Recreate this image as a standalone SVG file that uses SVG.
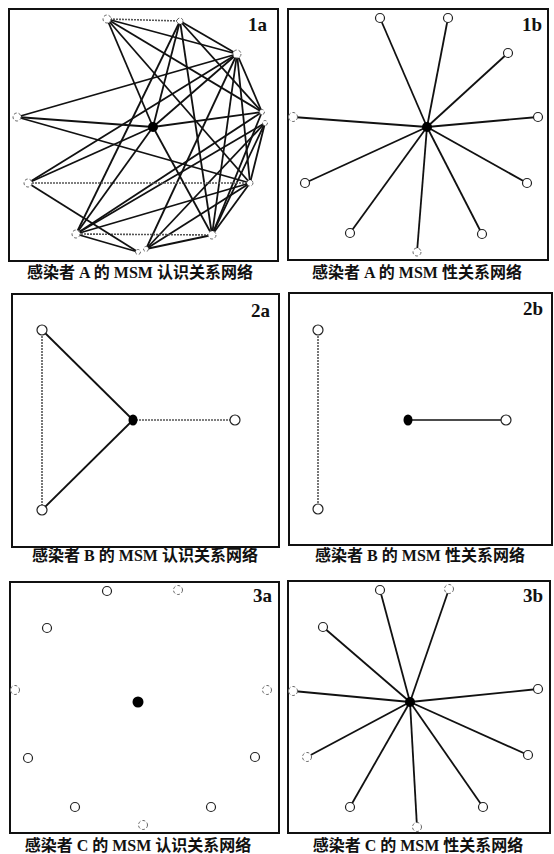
<svg xmlns="http://www.w3.org/2000/svg" width="554" height="854" viewBox="0 0 554 854">
<style>
.frame{fill:none;stroke:#111;stroke-width:2}
.e{stroke:#111;stroke-width:1.8;fill:none}
.g{stroke:#555;stroke-width:1.6;stroke-dasharray:2 1;fill:none}
.n{fill:#fff;stroke:#222;stroke-width:1.2}
.nf{fill:#fff;stroke:#666;stroke-width:1;stroke-dasharray:3 2}
.c{fill:#000}
.lab{font-family:"Liberation Serif","Times New Roman",serif;font-weight:bold;font-size:19px;fill:#111;text-anchor:end}
.cap{font-family:"Liberation Serif","Noto Sans CJK SC",serif;font-weight:bold;font-size:16px;fill:#111;text-anchor:middle}
</style>
<rect width="554" height="854" fill="#fff"/>
<g id="frames">
<rect class="frame" x="9" y="9" width="269" height="252"/>
<rect class="frame" x="288" y="9" width="260" height="251"/>
<rect class="frame" x="12" y="294" width="267" height="253"/>
<rect class="frame" x="289" y="293" width="263" height="252"/>
<rect class="frame" x="10" y="582" width="269" height="251"/>
<rect class="frame" x="288" y="581" width="262" height="252"/>
</g>
<g id="connectors">
<!-- 1a -->
<line class="g" x1="107" y1="19" x2="180" y2="21"/>
<line class="e" x1="107" y1="19" x2="237" y2="54"/>
<line class="e" x1="107" y1="19" x2="262" y2="112"/>
<line class="e" x1="107" y1="19" x2="153" y2="127"/>
<line class="e" x1="107" y1="19" x2="250" y2="183"/>
<line class="e" x1="180" y1="21" x2="237" y2="54"/>
<line class="e" x1="180" y1="21" x2="262" y2="112"/>
<line class="e" x1="180" y1="21" x2="153" y2="127"/>
<line class="e" x1="180" y1="21" x2="76" y2="234"/>
<line class="e" x1="180" y1="21" x2="212" y2="235"/>
<line class="e" x1="237" y1="54" x2="17" y2="117"/>
<line class="e" x1="237" y1="54" x2="153" y2="127"/>
<line class="e" x1="237" y1="54" x2="262" y2="112"/>
<line class="e" x1="237" y1="54" x2="250" y2="183"/>
<line class="e" x1="237" y1="54" x2="212" y2="235"/>
<line class="e" x1="237" y1="54" x2="146" y2="249"/>
<line class="e" x1="237" y1="54" x2="28" y2="183"/>
<line class="e" x1="262" y1="112" x2="153" y2="127"/>
<line class="e" x1="262" y1="112" x2="76" y2="234"/>
<line class="e" x1="262" y1="112" x2="212" y2="235"/>
<line class="e" x1="265" y1="123" x2="250" y2="183"/>
<line class="e" x1="265" y1="123" x2="212" y2="235"/>
<line class="e" x1="265" y1="123" x2="146" y2="249"/>
<line class="e" x1="265" y1="123" x2="76" y2="234"/>
<line class="e" x1="250" y1="183" x2="17" y2="117"/>
<line class="g" x1="250" y1="183" x2="28" y2="183"/>
<line class="e" x1="250" y1="183" x2="76" y2="234"/>
<line class="e" x1="250" y1="183" x2="146" y2="249"/>
<line class="e" x1="250" y1="183" x2="212" y2="235"/>
<line class="g" x1="212" y1="235" x2="76" y2="234"/>
<line class="e" x1="212" y1="235" x2="146" y2="249"/>
<line class="e" x1="212" y1="235" x2="153" y2="127"/>
<line class="e" x1="138" y1="252" x2="28" y2="183"/>
<line class="e" x1="138" y1="252" x2="76" y2="234"/>
<line class="e" x1="76" y1="234" x2="153" y2="127"/>
<line class="e" x1="28" y1="183" x2="153" y2="127"/>
<line class="e" x1="17" y1="117" x2="153" y2="127"/>
<!-- 1b -->
<line class="e" x1="427" y1="127" x2="380" y2="18"/>
<line class="e" x1="427" y1="127" x2="448" y2="18"/>
<line class="e" x1="427" y1="127" x2="508" y2="53"/>
<line class="e" x1="427" y1="127" x2="538" y2="117"/>
<line class="e" x1="427" y1="127" x2="527" y2="183"/>
<line class="e" x1="427" y1="127" x2="482" y2="234"/>
<line class="e" x1="427" y1="127" x2="417" y2="252"/>
<line class="e" x1="427" y1="127" x2="350" y2="233"/>
<line class="e" x1="427" y1="127" x2="305" y2="183"/>
<line class="e" x1="427" y1="127" x2="293" y2="117"/>
<!-- 2a -->
<line class="g" x1="42" y1="330" x2="42" y2="510"/>
<line class="e" x1="42" y1="330" x2="133" y2="420"/>
<line class="e" x1="42" y1="510" x2="133" y2="420"/>
<line class="g" x1="133" y1="420" x2="235" y2="420"/>
<!-- 2b -->
<line class="g" x1="318" y1="330" x2="318" y2="509"/>
<line class="e" x1="408" y1="420" x2="506" y2="420" style="stroke-width:1.4"/>
<!-- 3b -->
<line class="e" x1="410" y1="702" x2="380" y2="590"/>
<line class="e" x1="410" y1="702" x2="449" y2="589"/>
<line class="e" x1="410" y1="702" x2="323" y2="627"/>
<line class="e" x1="410" y1="702" x2="293" y2="691"/>
<line class="e" x1="410" y1="702" x2="538" y2="689"/>
<line class="e" x1="410" y1="702" x2="307" y2="757"/>
<line class="e" x1="410" y1="702" x2="528" y2="755"/>
<line class="e" x1="410" y1="702" x2="350" y2="807"/>
<line class="e" x1="410" y1="702" x2="483" y2="807"/>
<line class="e" x1="410" y1="702" x2="417" y2="827"/>
</g>
<!-- nodes 1a -->
<g id="n1a-c"><circle class="c" cx="153" cy="127" r="5"/></g>
<g id="n1a-1"><circle class="nf" cx="107" cy="19" r="4"/></g>
<g id="n1a-2"><circle class="nf" cx="180" cy="21" r="3"/></g>
<g id="n1a-3"><circle class="nf" cx="237" cy="54" r="4"/></g>
<g id="n1a-4"><circle class="nf" cx="262" cy="112" r="2.5"/></g>
<g id="n1a-5"><circle class="nf" cx="265" cy="123" r="2.5"/></g>
<g id="n1a-6"><circle class="nf" cx="250" cy="183" r="3"/></g>
<g id="n1a-7"><circle class="nf" cx="212" cy="235" r="4"/></g>
<g id="n1a-8"><circle class="nf" cx="146" cy="249" r="2.5"/></g>
<g id="n1a-9"><circle class="nf" cx="138" cy="252" r="2.5"/></g>
<g id="n1a-10"><circle class="nf" cx="76" cy="234" r="4"/></g>
<g id="n1a-11"><circle class="nf" cx="28" cy="183" r="4"/></g>
<g id="n1a-12"><circle class="nf" cx="17" cy="117" r="4"/></g>
<!-- nodes 1b -->
<g id="n1b-c"><circle class="c" cx="427" cy="127" r="5"/></g>
<g id="n1b-1"><circle class="n" cx="380" cy="18" r="4.5"/></g>
<g id="n1b-2"><circle class="n" cx="448" cy="18" r="4.5"/></g>
<g id="n1b-3"><circle class="n" cx="508" cy="53" r="4.5"/></g>
<g id="n1b-4"><circle class="n" cx="538" cy="117" r="4.5"/></g>
<g id="n1b-5"><circle class="n" cx="527" cy="183" r="4.5"/></g>
<g id="n1b-6"><circle class="n" cx="482" cy="234" r="4.5"/></g>
<g id="n1b-7"><circle class="nf" cx="417" cy="252" r="4"/></g>
<g id="n1b-8"><circle class="n" cx="350" cy="233" r="4.5"/></g>
<g id="n1b-9"><circle class="n" cx="305" cy="183" r="4.5"/></g>
<g id="n1b-10"><circle class="nf" cx="293" cy="117" r="4.5"/></g>
<!-- nodes 2a -->
<g id="n2a-c"><ellipse class="c" cx="133" cy="420" rx="4.5" ry="5.5"/></g>
<g id="n2a-1"><circle class="n" cx="42" cy="330" r="5"/></g>
<g id="n2a-2"><circle class="n" cx="42" cy="510" r="5"/></g>
<g id="n2a-3"><circle class="n" cx="235" cy="420" r="5"/></g>
<!-- nodes 2b -->
<g id="n2b-c"><ellipse class="c" cx="408" cy="420" rx="4.5" ry="5.5"/></g>
<g id="n2b-1"><circle class="n" cx="318" cy="330" r="5"/></g>
<g id="n2b-2"><circle class="n" cx="318" cy="509" r="5"/></g>
<g id="n2b-3"><circle class="n" cx="506" cy="420" r="5"/></g>
<!-- nodes 3a -->
<g id="n3a-c"><circle class="c" cx="138" cy="702" r="5.5"/></g>
<g id="n3a-1"><circle class="n" cx="107" cy="591" r="4.5"/></g>
<g id="n3a-2"><circle class="nf" cx="178" cy="590" r="4.5"/></g>
<g id="n3a-3"><circle class="n" cx="47" cy="628" r="4.5"/></g>
<g id="n3a-4"><circle class="nf" cx="15" cy="690" r="4.5"/></g>
<g id="n3a-5"><circle class="nf" cx="267" cy="690" r="4.5"/></g>
<g id="n3a-6"><circle class="n" cx="28" cy="758" r="4.5"/></g>
<g id="n3a-7"><circle class="n" cx="255" cy="757" r="4.5"/></g>
<g id="n3a-8"><circle class="n" cx="75" cy="807" r="4.5"/></g>
<g id="n3a-9"><circle class="n" cx="211" cy="807" r="4.5"/></g>
<g id="n3a-10"><circle class="nf" cx="143" cy="825" r="4.5"/></g>
<!-- nodes 3b -->
<g id="n3b-c"><circle class="c" cx="410" cy="702" r="5"/></g>
<g id="n3b-1"><circle class="n" cx="380" cy="590" r="4.5"/></g>
<g id="n3b-2"><circle class="nf" cx="449" cy="589" r="4.5"/></g>
<g id="n3b-3"><circle class="n" cx="323" cy="627" r="4.5"/></g>
<g id="n3b-4"><circle class="nf" cx="293" cy="691" r="4.5"/></g>
<g id="n3b-5"><circle class="n" cx="538" cy="689" r="4.5"/></g>
<g id="n3b-6"><circle class="nf" cx="307" cy="757" r="4.5"/></g>
<g id="n3b-7"><circle class="n" cx="528" cy="755" r="4.5"/></g>
<g id="n3b-8"><circle class="n" cx="350" cy="807" r="4.5"/></g>
<g id="n3b-9"><circle class="n" cx="483" cy="807" r="4.5"/></g>
<g id="n3b-10"><circle class="nf" cx="417" cy="827" r="4.5"/></g>
<g id="labels">
<text class="lab" x="267" y="31">1a</text>
<text class="lab" x="542" y="31">1b</text>
<text class="lab" x="270" y="317">2a</text>
<text class="lab" x="543" y="315">2b</text>
<text class="lab" x="272" y="602">3a</text>
<text class="lab" x="543" y="602">3b</text>
</g>
<g id="captions">
<text class="cap" x="140" y="278">感染者 A 的 MSM 认识关系网络</text>
<text class="cap" x="417" y="278">感染者 A 的 MSM 性关系网络</text>
<text class="cap" x="145" y="561">感染者 B 的 MSM 认识关系网络</text>
<text class="cap" x="420" y="561">感染者 B 的 MSM 性关系网络</text>
<text class="cap" x="138" y="851">感染者 C 的 MSM 认识关系网络</text>
<text class="cap" x="418" y="851">感染者 C 的 MSM 性关系网络</text>
</g>
</svg>
